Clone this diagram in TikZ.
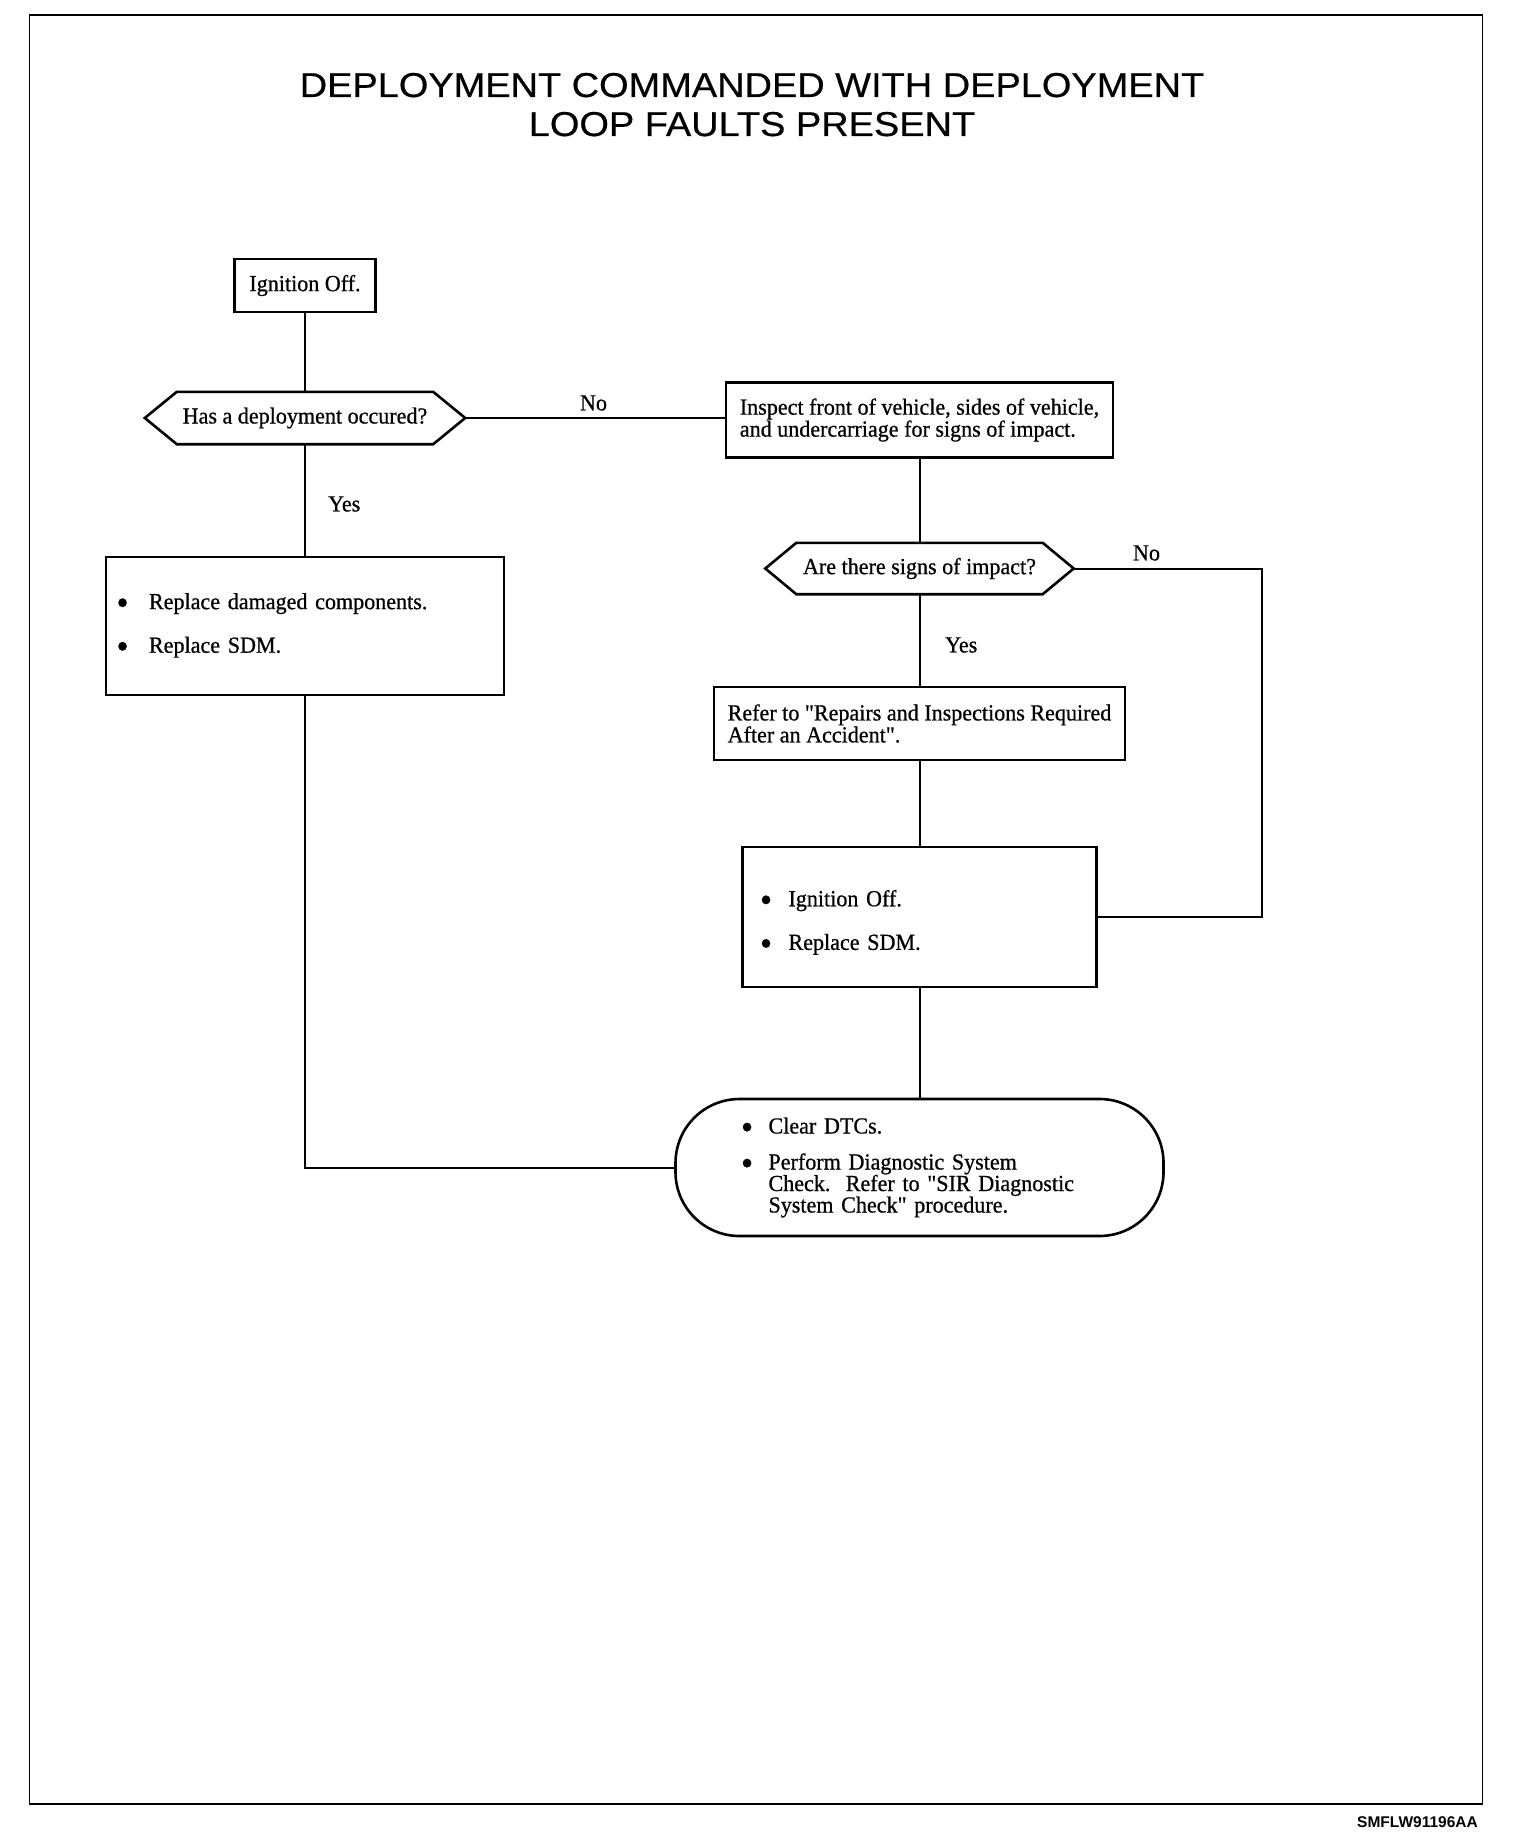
\documentclass[tikz,border=0pt]{standalone}
\usepackage{fontspec}
\setmainfont{Liberation Serif}
\newfontfamily\bodyfont[FakeStretch=0.96,FakeBold=0.7]{Liberation Serif}
\newfontfamily\titlefont[FakeStretch=1.1,FakeBold=0.5]{Liberation Sans}
\newfontfamily\footfont{Liberation Sans}
\newcommand\mybul[1]{\makebox[#1][l]{\hspace*{-3.5pt}\raisebox{-5.5pt}{\fontsize{36}{36}\selectfont\textbullet}}}
\newcommand\mybodysize{\bodyfont\fontsize{23}{22}\selectfont\setlength{\lineskiplimit}{-30pt}}
\tikzset{
  bodytxt/.style={font=\mybodysize},
  box/.style={bodytxt, draw, line width=2.6pt, rectangle, inner sep=0pt},
  boxline/.style={line width=2.6pt, line join=miter},
  hextext/.style={bodytxt, rectangle, inner sep=0pt},
  conn/.style={line width=2pt},
  lbl/.style={bodytxt, inner sep=0pt},
  titletext/.style={font=\titlefont\fontsize{34.5}{39}\selectfont, inner sep=0pt},
}
\begin{document}
\begin{tikzpicture}[x=1pt,y=-1pt]
\useasboundingbox (0,0) rectangle (1520,1846);
\fill[white] (0,0) rectangle (1520,1846);
\draw[line width=1.8pt] (29.5,15) rectangle (1482.5,1804);

% title
\node[titletext, anchor=base] (t1) at (752,97) {DEPLOYMENT COMMANDED WITH DEPLOYMENT};
\node[titletext, anchor=base] (t2) at (752,136) {LOOP FAULTS PRESENT};

% left column
\node[box, minimum width=141pt, minimum height=53pt] (ign1) at (305,285.5) {Ignition Off.};

\node[hextext, minimum width=256pt, minimum height=52pt] (d1) at (305,418) {Has a deployment occured?};
\coordinate (d1e) at ([xshift=32pt]d1.east);
\coordinate (d1w) at ([xshift=-32pt]d1.west);
\draw[boxline] (d1.north west) -- (d1.north east) -- (d1e) -- (d1.south east) -- (d1.south west) -- (d1w) -- cycle;

\node[box, minimum width=398pt, minimum height=138pt, text width=370pt, align=left] (rep) at (305,626)
  {\mybul{29pt}Replace damaged components.\\[21.6pt]\mybul{29pt}Replace SDM.\rule[-6.1pt]{0pt}{0pt}};

% right column
\node[box, minimum width=387pt, minimum height=75pt, align=left] (insp) at (919.5,420)
  {Inspect front of vehicle, sides of vehicle,\\and undercarriage for signs of impact.};

\node[hextext, minimum width=246pt, minimum height=51pt] (d2) at (919.5,568.5) {Are there signs of impact?};
\coordinate (d2e) at ([xshift=31pt]d2.east);
\coordinate (d2w) at ([xshift=-31pt]d2.west);
\draw[boxline] (d2.north west) -- (d2.north east) -- (d2e) -- (d2.south east) -- (d2.south west) -- (d2w) -- cycle;

\node[box, minimum width=411pt, minimum height=73pt, align=left] (refer) at (919.5,723.5)
  {Refer to "Repairs and Inspections Required\\After an Accident".};

\node[box, minimum width=354pt, minimum height=140pt, text width=312pt, align=left] (ign2) at (919.5,917)
  {\rule{0pt}{27.6pt}\mybul{25pt}Ignition Off.\\[21.6pt]\mybul{25pt}Replace SDM.};

\node[box, rounded corners=64pt, minimum width=488pt, minimum height=137pt, text width=350pt, align=left] (fin) at (919.5,1167.5)
  {\mybul{24pt}Clear DTCs.\\[14pt]\mybul{24pt}Perform Diagnostic System\\[-0.5pt]\hspace*{24pt}Check.\ \ Refer to "SIR Diagnostic\\[-0.5pt]\hspace*{24pt}System Check" procedure.};

\coordinate (rbend) at (1262,917);

% connectors
\draw[conn] (ign1.south) -- (d1.north);
\draw[conn] (d1.south) -- (rep.north);
\draw[conn] (d1e) -- (d1e -| insp.west);
\draw[conn] (insp.south) -- (d2.north);
\draw[conn] (d2.south) -- (refer.north);
\draw[conn] (refer.south) -- (ign2.north);
\draw[conn] (ign2.south) -- (fin.north);
\draw[conn] (d2e) -| (rbend) |- (ign2.east);
\draw[conn] (rep.south) |- (fin.west);

% labels
\node[lbl] (no1) at (593.5,403) {No};
\node[lbl, anchor=west] (yes1) at (328,504) {Yes};
\node[lbl] (no2) at (1146.5,553) {No};
\node[lbl, anchor=west] (yes2) at (945,645) {Yes};

\node[font=\footfont\bfseries\fontsize{15.5}{18}\selectfont, anchor=base east, inner sep=0pt] (code) at (1478,1827.5) {SMFLW91196AA};
\end{tikzpicture}
\end{document}
